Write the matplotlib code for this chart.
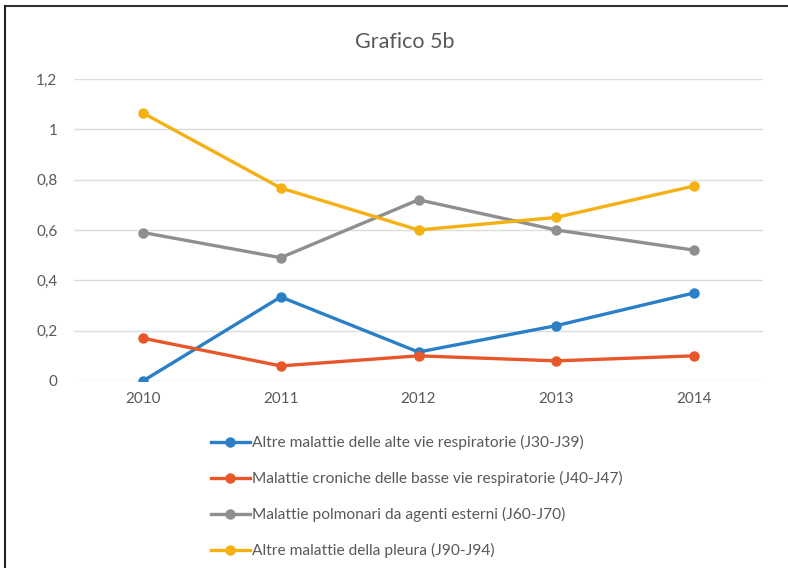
import matplotlib.pyplot as plt
from matplotlib.lines import Line2D
from matplotlib.ticker import FuncFormatter

years = ["2010", "2011", "2012", "2013", "2014"]
alte_vie = [0.0, 0.334, 0.115, 0.22, 0.35]
croniche_basse = [0.17, 0.06, 0.10, 0.08, 0.10]
polmonari_esterni = [0.59, 0.49, 0.72, 0.60, 0.52]
pleura = [1.065, 0.767, 0.60, 0.65, 0.775]

labels = [
    "Altre malattie delle alte vie respiratorie (J30-J39)",
    "Malattie croniche delle basse vie respiratorie (J40-J47)",
    "Malattie polmonari da agenti esterni (J60-J70)",
    "Altre malattie della pleura (J90-J94)",
]
colors = ["#2a7fc6", "#e8572a", "#8f8f8f", "#f5b014"]
y_ticks = [0, 0.2, 0.4, 0.6, 0.8, 1.0, 1.2]

plt.rcParams["font.family"] = ["Lato", "DejaVu Sans"]
text_color = "#595959"

fig = plt.figure(figsize=(7.88, 5.68), dpi=100)
ax = fig.add_axes([74 / 788, 1 - 381 / 568, 689 / 788, 302 / 568])

x = list(range(len(years)))
for series, lab, col in zip(
    [alte_vie, croniche_basse, polmonari_esterni, pleura], labels, colors
):
    ax.plot(x, series, color=col, lw=2.4, marker="o", ms=6.5, label=lab,
            zorder=3)

ax.set_xlim(-0.5, len(years) - 0.5)
ax.set_ylim(0, 1.2)
ax.set_xticks(x)
ax.set_xticklabels(years)
ax.set_yticks(y_ticks)
ax.yaxis.set_major_formatter(
    FuncFormatter(lambda v, p: f"{v:g}".replace(".", ","))
)
ax.grid(axis="y", color="#dcdcdc", lw=1)
ax.set_axisbelow(True)
for s in ax.spines.values():
    s.set_visible(False)
ax.tick_params(length=0, labelsize=11, colors=text_color)
ax.tick_params(axis="y", pad=12)
ax.tick_params(axis="x", pad=8)

fig.text(405 / 788, 1 - 42 / 568, "Grafico 5b", ha="center", va="center",
         fontsize=15.5, color=text_color)

handles = [Line2D([], [], color=c, lw=2.4, marker="o", ms=6.5) for c in colors]
fig.legend(handles, labels, loc="upper left",
           bbox_to_anchor=(211 / 788, 1 - 435 / 568), frameon=False,
           fontsize=11.2, labelspacing=1.35, handlelength=2.5,
           handletextpad=0.12, borderpad=0, borderaxespad=0,
           labelcolor=text_color)

# page frame (top and left edges)
fig.add_artist(Line2D([5 / 788, 1], [1 - 6 / 568, 1 - 6 / 568],
                      transform=fig.transFigure, color="#333333", lw=1.5))
fig.add_artist(Line2D([5 / 788, 5 / 788], [0, 1 - 6 / 568],
                      transform=fig.transFigure, color="#222222", lw=1.5))

fig.savefig("out.png", dpi=100)
